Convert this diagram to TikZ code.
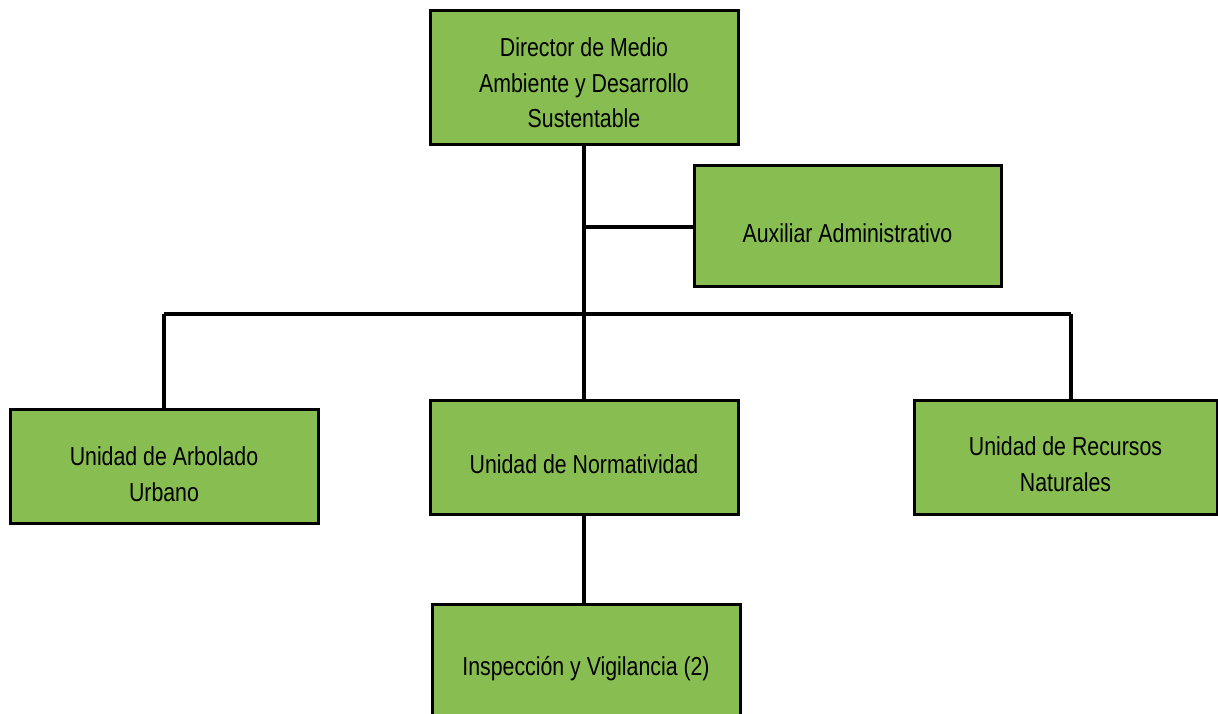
\documentclass[tikz,border=0pt]{standalone}
\usepackage{fontspec}
\setmainfont{Liberation Sans}[FakeStretch=0.82]
\definecolor{boxgreen}{RGB}{136,190,81}
\begin{document}
\begin{tikzpicture}[x=1pt,y=-1pt,
  orgbox/.style={draw=black,line width=3pt,fill=boxgreen,inner sep=0pt},
  boxtext/.style={inner sep=0pt,align=center,font=\fontsize{26}{35.5}\selectfont},
  link/.style={line width=3.2pt,draw=black}]
\useasboundingbox (0,0) rectangle (1218,713);
\begin{scope}
\clip (0,0) rectangle (1218,713);
\node[orgbox,minimum width=308pt,minimum height=134pt] (dir) at (584,77) {};
\node[boxtext] (dirt) at ([yshift=-6pt]dir.center) {Director de Medio\\Ambiente y Desarrollo\\Sustentable};
\node[orgbox,minimum width=307pt,minimum height=121pt] (aux) at (847.5,225.5) {};
\node[boxtext] (auxt) at ([yshift=-8pt]aux.center) {Auxiliar Administrativo};
\node[orgbox,minimum width=308pt,minimum height=114pt] (arb) at (164,466) {};
\node[boxtext] (arbt) at ([yshift=-8pt]arb.center) {Unidad de Arbolado\\Urbano};
\node[orgbox,minimum width=308pt,minimum height=114pt] (norm) at (584,457) {};
\node[boxtext] (normt) at ([yshift=-7pt]norm.center) {Unidad de Normatividad};
\node[orgbox,minimum width=303pt,minimum height=114pt] (rec) at (1065.5,457) {};
\node[boxtext] (rect) at ([yshift=-7pt]rec.center) {Unidad de Recursos\\Naturales};
\node[orgbox,minimum width=308pt,minimum height=130pt] (insp) at (586,669) {};
\node[boxtext] (inspt) at ([yshift=0pt]insp.center) {Inspección y Vigilancia (2)};
\coordinate (hl) at (164,314);
\coordinate (hr) at (1071,314);
\coordinate (am) at (584,227);
\draw[link] (dir.south) -- (norm.north);
\draw[link] (am) -- (aux.west |- am);
\draw[link] (hl) -- (hr);
\draw[link] (hl) -- (arb.north -| hl);
\draw[link] (hr) -- (rec.north -| hr);
\draw[link] (norm.south) -- (insp.north -| norm.south);
\end{scope}
\end{tikzpicture}
\end{document}
